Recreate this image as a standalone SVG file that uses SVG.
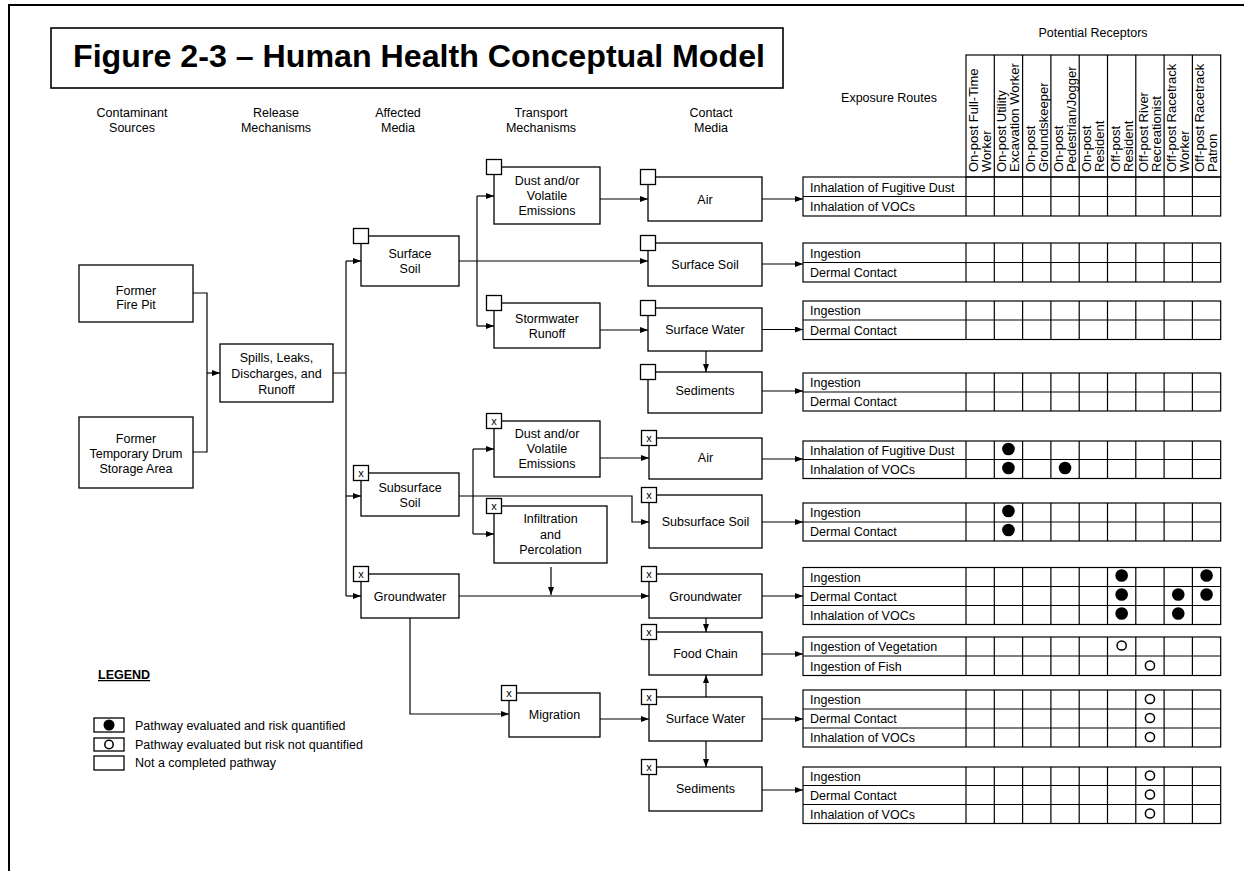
<svg xmlns="http://www.w3.org/2000/svg" width="1244" height="871" viewBox="0 0 1244 871">
<style>
text{font-family:"Liberation Sans",Arial,Helvetica,sans-serif;font-size:12.5px;fill:#000}
.c{text-anchor:middle}
.box{fill:#fff;stroke:#000;stroke-width:1.3}
.sq{fill:#fff;stroke:#000;stroke-width:1.3}
.ln{fill:none;stroke:#000;stroke-width:1.2}
.ar{fill:none;stroke:#000;stroke-width:1.2;marker-end:url(#ah)}
.grid{fill:none;stroke:#000;stroke-width:1.2}
.hd{font-size:13px}
.x{font-size:11px;text-anchor:middle}
.dot{fill:#000}
.od{fill:#fff;stroke:#000;stroke-width:1.5}
</style>
<defs>
<marker id="ah" markerUnits="userSpaceOnUse" markerWidth="8" markerHeight="6" refX="8" refY="3" orient="auto">
<path d="M0,0 L8,3 L0,6 z" fill="#000"/>
</marker>
</defs>

<g id="frame">
<path d="M9,5 V871 M8,5 H1244" stroke="#000" stroke-width="2" fill="none"/>
</g>

<g id="title">
<rect x="51" y="28" width="732" height="60" fill="#fff" stroke="#000" stroke-width="1.6"/>
<text x="73" y="67" style="font-size:31px;font-weight:bold" textLength="692" lengthAdjust="spacingAndGlyphs">Figure 2-3 – Human Health Conceptual Model</text>
</g>

<g id="column-headers">
<text class="c" x="132" y="117">Contaminant</text>
<text class="c" x="132" y="132">Sources</text>
<text class="c" x="276" y="117">Release</text>
<text class="c" x="276" y="132">Mechanisms</text>
<text class="c" x="398" y="117">Affected</text>
<text class="c" x="398" y="132">Media</text>
<text class="c" x="541" y="117">Transport</text>
<text class="c" x="541" y="132">Mechanisms</text>
<text class="c" x="711" y="117">Contact</text>
<text class="c" x="711" y="132">Media</text>
<text class="c" x="889" y="102">Exposure Routes</text>
<text class="c" x="1093" y="37">Potential Receptors</text>
</g>

<g id="receptor-header">
<rect class="grid" x="966" y="55" width="254.7" height="122"/>
<path class="grid" d="M994.3,55V177M1022.6,55V177M1050.9,55V177M1079.2,55V177M1107.5,55V177M1135.8,55V177M1164.1,55V177M1192.4,55V177"/>
<text class="hd" transform="translate(978,172) rotate(-90)">On-post Full-Time</text>
<text class="hd" transform="translate(991,172) rotate(-90)">Worker</text>
<text class="hd" transform="translate(1006.3,172) rotate(-90)">On-post Utility</text>
<text class="hd" transform="translate(1019.3,172) rotate(-90)">Excavation Worker</text>
<text class="hd" transform="translate(1034.6,172) rotate(-90)">On-post</text>
<text class="hd" transform="translate(1047.6,172) rotate(-90)">Groundskeeper</text>
<text class="hd" transform="translate(1062.9,172) rotate(-90)">On-post</text>
<text class="hd" transform="translate(1075.9,172) rotate(-90)">Pedestrian/Jogger</text>
<text class="hd" transform="translate(1091.2,172) rotate(-90)">On-post</text>
<text class="hd" transform="translate(1104.2,172) rotate(-90)">Resident</text>
<text class="hd" transform="translate(1119.5,172) rotate(-90)">Off-post</text>
<text class="hd" transform="translate(1132.5,172) rotate(-90)">Resident</text>
<text class="hd" transform="translate(1147.8,172) rotate(-90)">Off-post River</text>
<text class="hd" transform="translate(1160.8,172) rotate(-90)">Recreationist</text>
<text class="hd" transform="translate(1176.1,172) rotate(-90)">Off-post Racetrack</text>
<text class="hd" transform="translate(1189.1,172) rotate(-90)">Worker</text>
<text class="hd" transform="translate(1204.4,172) rotate(-90)">Off-post Racetrack</text>
<text class="hd" transform="translate(1217.4,172) rotate(-90)">Patron</text>
</g>

<g id="connectors">
<path class="ln" d="M193,293 H207 V452 H193"/>
<path class="ar" d="M207,373 H220"/>
<path class="ln" d="M333,373 H346 M346,261 V596"/>
<path class="ar" d="M346,261 H361"/>
<path class="ar" d="M346,496 H361"/>
<path class="ar" d="M346,596 H361"/>
<path class="ar" d="M459,261 H648"/>
<path class="ln" d="M477,196 V326"/>
<path class="ar" d="M477,196 H494"/>
<path class="ar" d="M477,326 H494"/>
<path class="ar" d="M600,199 H648"/>
<path class="ar" d="M762,199 H803"/>
<path class="ar" d="M762,264 H803"/>
<path class="ar" d="M600,330 H648"/>
<path class="ar" d="M762,329.5 H803"/>
<path class="ar" d="M706,351 V372"/>
<path class="ar" d="M762,391 H803"/>
<path class="ar" d="M459,496 H632 V522 H649"/>
<path class="ln" d="M473,449 V534"/>
<path class="ar" d="M473,449 H494"/>
<path class="ar" d="M473,534 H494"/>
<path class="ar" d="M600,458 H649"/>
<path class="ar" d="M762,459 H803"/>
<path class="ar" d="M762,522 H803"/>
<path class="ar" d="M551,567 V595"/>
<path class="ar" d="M459,596 H649"/>
<path class="ar" d="M762,596 H803"/>
<path class="ar" d="M706,618 V632"/>
<path class="ar" d="M762,654 H803"/>
<path class="ar" d="M410,618 V714 H509"/>
<path class="ar" d="M600,719 H649"/>
<path class="ar" d="M706,697 V675"/>
<path class="ar" d="M706,741 V767"/>
<path class="ar" d="M762,719 H803"/>
<path class="ar" d="M762,790 H803"/>
</g>

<g id="n-firepit">
<rect class="box" x="79" y="265" width="114" height="57"/>
<text class="c" x="136" y="294.5">Former</text>
<text class="c" x="136" y="308.5">Fire Pit</text>
</g>
<g id="n-drum">
<rect class="box" x="79" y="417" width="114" height="71"/>
<text class="c" x="136" y="442.5">Former</text>
<text class="c" x="136" y="457.5">Temporary Drum</text>
<text class="c" x="136" y="472.5">Storage Area</text>
</g>
<g id="n-spills">
<rect class="box" x="220" y="344" width="113" height="58"/>
<text class="c" x="276.5" y="361.5">Spills, Leaks,</text>
<text class="c" x="276.5" y="377.5">Discharges, and</text>
<text class="c" x="276.5" y="393.5">Runoff</text>
</g>
<g id="n-surfsoil-a">
<rect class="box" x="361" y="236" width="98" height="50"/>
<text class="c" x="410" y="257.5">Surface</text>
<text class="c" x="410" y="272.5">Soil</text>
<rect class="sq" x="353.5" y="228.5" width="15" height="15"/>
</g>
<g id="n-dust1">
<rect class="box" x="494" y="167" width="106" height="57"/>
<text class="c" x="547" y="184.5">Dust and/or</text>
<text class="c" x="547" y="199.5">Volatile</text>
<text class="c" x="547" y="214.5">Emissions</text>
<rect class="sq" x="486.5" y="159.5" width="15" height="15"/>
</g>
<g id="n-storm">
<rect class="box" x="494" y="303" width="106" height="45"/>
<text class="c" x="547" y="322.5">Stormwater</text>
<text class="c" x="547" y="337.5">Runoff</text>
<rect class="sq" x="486.5" y="295.5" width="15" height="15"/>
</g>
<g id="n-air1">
<rect class="box" x="648" y="177" width="114" height="44"/>
<text class="c" x="705" y="203.5">Air</text>
<rect class="sq" x="640.5" y="169.5" width="15" height="15"/>
</g>
<g id="n-surfsoil-c">
<rect class="box" x="648" y="243" width="114" height="43"/>
<text class="c" x="705" y="268.5">Surface Soil</text>
<rect class="sq" x="640.5" y="235.5" width="15" height="15"/>
</g>
<g id="n-surfwater1">
<rect class="box" x="648" y="308" width="114" height="43"/>
<text class="c" x="705" y="333.5">Surface Water</text>
<rect class="sq" x="640.5" y="300.5" width="15" height="15"/>
</g>
<g id="n-sed1">
<rect class="box" x="648" y="372" width="114" height="41"/>
<text class="c" x="705" y="395">Sediments</text>
<rect class="sq" x="640.5" y="364.5" width="15" height="15"/>
</g>
<g id="n-subsoil-a">
<rect class="box" x="361" y="473" width="98" height="43"/>
<text class="c" x="410" y="492">Subsurface</text>
<text class="c" x="410" y="507">Soil</text>
<rect class="sq" x="353.5" y="465.5" width="15" height="15"/>
<text class="x" x="361" y="477">x</text>
</g>
<g id="n-gw-a">
<rect class="box" x="361" y="574" width="98" height="44"/>
<text class="c" x="410" y="600.5">Groundwater</text>
<rect class="sq" x="353.5" y="566.5" width="15" height="15"/>
<text class="x" x="361" y="577.5">x</text>
</g>
<g id="n-dust2">
<rect class="box" x="494" y="421" width="106" height="56"/>
<text class="c" x="547" y="437.5">Dust and/or</text>
<text class="c" x="547" y="452.5">Volatile</text>
<text class="c" x="547" y="467.5">Emissions</text>
<rect class="sq" x="486.5" y="413.5" width="15" height="15"/>
<text class="x" x="494" y="424.5">x</text>
</g>
<g id="n-infil">
<rect class="box" x="494" y="506" width="113" height="57"/>
<text class="c" x="550.5" y="523">Infiltration</text>
<text class="c" x="550.5" y="538.5">and</text>
<text class="c" x="550.5" y="554">Percolation</text>
<rect class="sq" x="486.5" y="498.5" width="15" height="15"/>
<text class="x" x="494" y="509.5">x</text>
</g>
<g id="n-air2">
<rect class="box" x="649" y="438" width="113" height="41"/>
<text class="c" x="705.5" y="462">Air</text>
<rect class="sq" x="641.5" y="430.5" width="15" height="15"/>
<text class="x" x="649" y="441.5">x</text>
</g>
<g id="n-subsoil-c">
<rect class="box" x="649" y="495" width="113" height="53"/>
<text class="c" x="705.5" y="526">Subsurface Soil</text>
<rect class="sq" x="641.5" y="487.5" width="15" height="15"/>
<text class="x" x="649" y="498.5">x</text>
</g>
<g id="n-gw-c">
<rect class="box" x="649" y="574" width="113" height="44"/>
<text class="c" x="705.5" y="600.5">Groundwater</text>
<rect class="sq" x="641.5" y="566.5" width="15" height="15"/>
<text class="x" x="649" y="577.5">x</text>
</g>
<g id="n-food">
<rect class="box" x="649" y="632" width="113" height="43"/>
<text class="c" x="705.5" y="657.5">Food Chain</text>
<rect class="sq" x="641.5" y="624.5" width="15" height="15"/>
<text class="x" x="649" y="635.5">x</text>
</g>
<g id="n-surfwater2">
<rect class="box" x="649" y="697" width="113" height="44"/>
<text class="c" x="705.5" y="723">Surface Water</text>
<rect class="sq" x="641.5" y="689.5" width="15" height="15"/>
<text class="x" x="649" y="700.5">x</text>
</g>
<g id="n-sed2">
<rect class="box" x="649" y="767" width="113" height="44"/>
<text class="c" x="705.5" y="793">Sediments</text>
<rect class="sq" x="641.5" y="759.5" width="15" height="15"/>
<text class="x" x="649" y="770.5">x</text>
</g>
<g id="n-migration">
<rect class="box" x="509" y="693" width="91" height="44"/>
<text class="c" x="554.5" y="719">Migration</text>
<rect class="sq" x="501.5" y="685.5" width="15" height="15"/>
<text class="x" x="509" y="696.5">x</text>
</g>

<g id="t-air1">
<rect class="grid" x="803" y="177" width="417.7" height="39"/>
<path class="grid" d="M803,196.5H1220.7M966,177V216M994.3,177V216M1022.6,177V216M1050.9,177V216M1079.2,177V216M1107.5,177V216M1135.8,177V216M1164.1,177V216M1192.4,177V216"/>
<text x="810" y="191.5">Inhalation of Fugitive Dust</text>
<text x="810" y="211">Inhalation of VOCs</text>
</g>
<g id="t-surfsoil">
<rect class="grid" x="803" y="243" width="417.7" height="39"/>
<path class="grid" d="M803,262.5H1220.7M966,243V282M994.3,243V282M1022.6,243V282M1050.9,243V282M1079.2,243V282M1107.5,243V282M1135.8,243V282M1164.1,243V282M1192.4,243V282"/>
<text x="810" y="257.5">Ingestion</text>
<text x="810" y="277">Dermal Contact</text>
</g>
<g id="t-surfwater1">
<rect class="grid" x="803" y="301" width="417.7" height="38.5"/>
<path class="grid" d="M803,320H1220.7M966,301V339.5M994.3,301V339.5M1022.6,301V339.5M1050.9,301V339.5M1079.2,301V339.5M1107.5,301V339.5M1135.8,301V339.5M1164.1,301V339.5M1192.4,301V339.5"/>
<text x="810" y="315">Ingestion</text>
<text x="810" y="334.5">Dermal Contact</text>
</g>
<g id="t-sed1">
<rect class="grid" x="803" y="373" width="417.7" height="38"/>
<path class="grid" d="M803,392H1220.7M966,373V411M994.3,373V411M1022.6,373V411M1050.9,373V411M1079.2,373V411M1107.5,373V411M1135.8,373V411M1164.1,373V411M1192.4,373V411"/>
<text x="810" y="387">Ingestion</text>
<text x="810" y="406">Dermal Contact</text>
</g>
<g id="t-air2">
<rect class="grid" x="803" y="441" width="417.7" height="37.5"/>
<path class="grid" d="M803,459.5H1220.7M966,441V478.5M994.3,441V478.5M1022.6,441V478.5M1050.9,441V478.5M1079.2,441V478.5M1107.5,441V478.5M1135.8,441V478.5M1164.1,441V478.5M1192.4,441V478.5"/>
<text x="810" y="454.5">Inhalation of Fugitive Dust</text>
<text x="810" y="473.5">Inhalation of VOCs</text>
<circle class="dot" cx="1008.45" cy="449" r="6.3"/>
<circle class="dot" cx="1008.45" cy="468" r="6.3"/>
<circle class="dot" cx="1065.05" cy="468" r="6.3"/>
</g>
<g id="t-subsoil">
<rect class="grid" x="803" y="503" width="417.7" height="38"/>
<path class="grid" d="M803,522H1220.7M966,503V541M994.3,503V541M1022.6,503V541M1050.9,503V541M1079.2,503V541M1107.5,503V541M1135.8,503V541M1164.1,503V541M1192.4,503V541"/>
<text x="810" y="517">Ingestion</text>
<text x="810" y="536">Dermal Contact</text>
<circle class="dot" cx="1008.45" cy="511" r="6.3"/>
<circle class="dot" cx="1008.45" cy="530" r="6.3"/>
</g>
<g id="t-gw">
<rect class="grid" x="803" y="567.5" width="417.7" height="57"/>
<path class="grid" d="M803,586.5H1220.7M803,605.5H1220.7M966,567.5V624.5M994.3,567.5V624.5M1022.6,567.5V624.5M1050.9,567.5V624.5M1079.2,567.5V624.5M1107.5,567.5V624.5M1135.8,567.5V624.5M1164.1,567.5V624.5M1192.4,567.5V624.5"/>
<text x="810" y="581.5">Ingestion</text>
<text x="810" y="600.5">Dermal Contact</text>
<text x="810" y="619.5">Inhalation of VOCs</text>
<circle class="dot" cx="1121.65" cy="575.5" r="6.3"/>
<circle class="dot" cx="1206.55" cy="575.5" r="6.3"/>
<circle class="dot" cx="1121.65" cy="594.5" r="6.3"/>
<circle class="dot" cx="1178.25" cy="594.5" r="6.3"/>
<circle class="dot" cx="1206.55" cy="594.5" r="6.3"/>
<circle class="dot" cx="1121.65" cy="613.5" r="6.3"/>
<circle class="dot" cx="1178.25" cy="613.5" r="6.3"/>
</g>
<g id="t-food">
<rect class="grid" x="803" y="637" width="417.7" height="38.5"/>
<path class="grid" d="M803,656H1220.7M966,637V675.5M994.3,637V675.5M1022.6,637V675.5M1050.9,637V675.5M1079.2,637V675.5M1107.5,637V675.5M1135.8,637V675.5M1164.1,637V675.5M1192.4,637V675.5"/>
<text x="810" y="651">Ingestion of Vegetation</text>
<text x="810" y="670.5">Ingestion of Fish</text>
<circle class="od" cx="1121.65" cy="645.5" r="4.6"/>
<circle class="od" cx="1149.95" cy="665.5" r="4.6"/>
</g>
<g id="t-surfwater2">
<rect class="grid" x="803" y="690" width="417.7" height="57"/>
<path class="grid" d="M803,709H1220.7M803,728H1220.7M966,690V747M994.3,690V747M1022.6,690V747M1050.9,690V747M1079.2,690V747M1107.5,690V747M1135.8,690V747M1164.1,690V747M1192.4,690V747"/>
<text x="810" y="704">Ingestion</text>
<text x="810" y="723">Dermal Contact</text>
<text x="810" y="742">Inhalation of VOCs</text>
<circle class="od" cx="1149.95" cy="699" r="4.6"/>
<circle class="od" cx="1149.95" cy="718" r="4.6"/>
<circle class="od" cx="1149.95" cy="737" r="4.6"/>
</g>
<g id="t-sed2">
<rect class="grid" x="803" y="767" width="417.7" height="56.5"/>
<path class="grid" d="M803,785.5H1220.7M803,804.5H1220.7M966,767V823.5M994.3,767V823.5M1022.6,767V823.5M1050.9,767V823.5M1079.2,767V823.5M1107.5,767V823.5M1135.8,767V823.5M1164.1,767V823.5M1192.4,767V823.5"/>
<text x="810" y="780.5">Ingestion</text>
<text x="810" y="799.5">Dermal Contact</text>
<text x="810" y="818.5">Inhalation of VOCs</text>
<circle class="od" cx="1149.95" cy="775.5" r="4.6"/>
<circle class="od" cx="1149.95" cy="794.5" r="4.6"/>
<circle class="od" cx="1149.95" cy="813.5" r="4.6"/>
</g>

<g id="legend">
<text x="98" y="679" style="font-weight:bold;text-decoration:underline">LEGEND</text>
<rect class="box" x="94" y="718" width="30" height="14"/>
<circle class="dot" cx="109" cy="725" r="5.5"/>
<text x="135" y="729.5">Pathway evaluated and risk quantified</text>
<rect class="box" x="94" y="738" width="30" height="13"/>
<circle class="od" cx="109" cy="744.5" r="4.2"/>
<text x="135" y="749">Pathway evaluated but risk not quantified</text>
<rect class="box" x="94" y="756" width="30" height="14"/>
<text x="135" y="767">Not a completed  pathway</text>
</g>
</svg>
